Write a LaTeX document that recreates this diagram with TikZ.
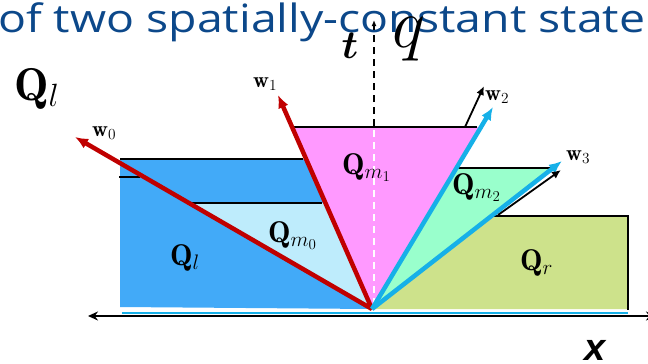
\documentclass[tikz,border=0pt]{standalone}
\usepackage{fix-cm}
\usepackage{bm}
\usepackage{fontspec}
\newfontfamily\titlefont{Open Sans}
\newfontfamily\xfont{Liberation Sans}
\usetikzlibrary{arrows.meta}
\definecolor{titleblue}{RGB}{12,72,138}
\definecolor{qlblue}{RGB}{66,170,248}
\definecolor{qmzero}{RGB}{190,236,252}
\definecolor{qmone}{RGB}{255,153,255}
\definecolor{qmtwo}{RGB}{153,255,204}
\definecolor{qrgreen}{RGB}{205,226,139}
\definecolor{wred}{RGB}{192,0,0}
\definecolor{wcyan}{RGB}{22,176,232}
\tikzset{
  redarrow/.style={draw=wred, line width=4.5pt, -{Latex[length=13pt,width=11pt]}},
  cyanarrow/.style={draw=wcyan, line width=4.5pt, -{Latex[length=13pt,width=11pt]}},
  blackarrow/.style={draw=black, line width=1.8pt, -{Latex[length=9pt,width=8pt]}},
  edge/.style={draw=black, line width=2pt},
  reglab/.style={inner sep=0pt, anchor=base west, font=\fontsize{30}{30}\selectfont},
  wlab/.style={inner sep=0pt, anchor=base west, font=\fontsize{22}{22}\selectfont},
}
\begin{document}
\begin{tikzpicture}[x=1pt,y=-1pt]
\useasboundingbox (0,0) rectangle (648,364);
\clip (0,0) rectangle (648,364);
% key points
\coordinate (O) at (372,309);
\coordinate (w0tip) at (75,137);
\coordinate (w1tip) at (278,95);
\coordinate (w2tip) at (493,107);
\coordinate (w3tip) at (562,161);
% title
\node[inner sep=0pt, anchor=base west, text=titleblue, font=\titlefont\fontsize{39}{42}\selectfont] (title) at (-2,33) {\resizebox{647pt}{\height}{of two spatially-constant state}};
% regions
\fill[qlblue] (120,159) -- (306,159) -- (O) -- (120,307) -- cycle;
\fill[qmzero] (188,203) -- (325,203) -- (O) -- cycle;
\fill[qmone] (292,127) -- (480,127) -- (O) -- cycle;
\fill[qmtwo] (456,168) -- (553,168) -- (O) -- cycle;
\fill[qrgreen] (O) -- (492,216) -- (628,216) -- (628,309) -- cycle;
% edges
\draw[edge] (120,159) -- (303,159);
\draw[edge] (119,177) -- (140,177);
\draw[edge] (190,203) -- (322,203);
\draw[edge] (292,127) -- (477,127);
\draw[edge] (458,168) -- (553,168);
\draw[edge] (493,216) -- (628,216) -- (628,310);
\draw[wcyan, line width=1.2pt] (122,313) -- (628,313);
% t axis
\draw[white, line width=1.6pt, dash pattern=on 7pt off 5pt] (374,305) -- (374,128);
\fill[white] (369,15) rectangle (380,28);
\draw[black, line width=1.6pt, dash pattern=on 7pt off 5pt, -{Latex[length=6pt,width=5pt]}] (374,126) -- (374,20);
% x axis
\draw[black, line width=2.5pt, {Stealth[length=10pt,width=9pt]}-{Stealth[length=10pt,width=9pt]}] (88,316) -- (656,316);
% waves
\draw[redarrow] (O) -- (w0tip);
\draw[redarrow] (O) -- (w1tip);
\draw[cyanarrow] (O) -- (w2tip);
\draw[cyanarrow] (O) -- (w3tip);
\coordinate (b2s) at (465,127);
\coordinate (b2e) at (484,86);
\coordinate (b3s) at (498,215);
\coordinate (b3e) at (561,170);
\draw[blackarrow] (b2s) -- (b2e);
\draw[blackarrow] (b3s) -- (b3e);
% labels
\node[wlab] (lw0) at (92,136) {$\mathbf{w}_0$};
\node[wlab] (lw1) at (253,87) {$\mathbf{w}_1$};
\node[wlab] (lw2) at (485,100) {$\mathbf{w}_2$};
\node[wlab] (lw3) at (566,160) {$\mathbf{w}_3$};
\node[inner sep=0pt, anchor=base west, font=\fontsize{46}{46}\selectfont] (QlTop) at (14,100) {$\mathbf{Q}_l$};
\node[reglab] (Ql) at (170,265) {$\mathbf{Q}_l$};
\node[reglab] (Qm0) at (268,242) {$\mathbf{Q}_{m_0}$};
\node[reglab] (Qm1) at (342,174) {$\mathbf{Q}_{m_1}$};
\node[reglab] (Qm2) at (452,194) {$\mathbf{Q}_{m_2}$};
\node[reglab] (Qr) at (520,270) {$\mathbf{Q}_r$};
\node[inner sep=0pt, anchor=base, font=\fontsize{40}{40}\selectfont] (tl) at (350,58) {$\bm{t}$};
\node[inner sep=0pt, anchor=base west, font=\fontsize{70}{70}\selectfont] (ql) at (392,47) {$q$};
\node[inner sep=0pt, anchor=base, font=\xfont\bfseries\itshape\fontsize{38}{38}\selectfont] (xl) at (595,360) {x};
\end{tikzpicture}
\end{document}
